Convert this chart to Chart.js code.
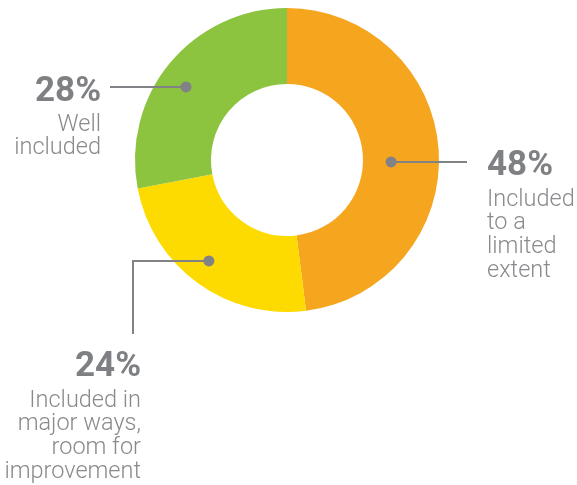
<!DOCTYPE html>
<html lang="en">
<head>
  <meta charset="UTF-8" />
  <title>Inclusion share</title>
  <script src="https://cdn.jsdelivr.net/npm/chart.js"></script>
  <style>
    html, body { margin: 0; padding: 0; background: #fff; }
    #wrap { position: relative; width: 577px; height: 485px; }
  </style>
</head>
<body>
  <div id="wrap">
    <canvas id="donut" width="577" height="485"></canvas>
  </div>

  <script>
    // segments, clockwise from 12 o'clock
    const categories = [
      'Included to a limited extent',
      'Included in major ways, room for improvement',
      'Well included'
    ];
    const shares = [48, 24, 28];
    const labelLines = [
      ['Included', 'to a', 'limited', 'extent'],
      ['Included in', 'major ways,', 'room for', 'improvement'],
      ['Well', 'included']
    ];
    const colors = ['#F6A51F', '#FDDA00', '#8CC43F'];

    const grey = '#818286';

    // where each callout sits: dot along the arc (t = fraction of sweep, r = fraction of ring),
    // leader path, and text block anchor
    const callouts = [
      { t: 0.527, r: 0.37, path: [[467, null]], x: 487, align: 'left', pctY: 175, lineYs: [206, 229, 253, 277] },
      { t: 0.52, r: 0.68, path: [[133, null], [133, 334]], x: 141, align: 'right', pctY: 376, lineYs: [407, 430, 454, 478] },
      { t: 0.463, r: 0.64, path: [[110, null]], x: 101, align: 'right', pctY: 101, lineYs: [131, 154] }
    ];

    const calloutPlugin = {
      id: 'callouts',
      afterDatasetsDraw(chart) {
        const ctx = chart.ctx;
        const arcs = chart.getDatasetMeta(0).data;
        ctx.save();
        arcs.forEach((arc, i) => {
          const c = callouts[i];
          const p = arc.getProps(['x', 'y', 'startAngle', 'endAngle', 'innerRadius', 'outerRadius'], true);
          const a = p.startAngle + (p.endAngle - p.startAngle) * c.t;
          const r = p.innerRadius + (p.outerRadius - p.innerRadius) * c.r;
          const dx = p.x + Math.cos(a) * r;
          const dy = p.y + Math.sin(a) * r;

          // leader line
          ctx.strokeStyle = grey;
          ctx.lineWidth = 2;
          ctx.beginPath();
          ctx.moveTo(dx, dy);
          c.path.forEach(([px, py]) => ctx.lineTo(px, py === null ? dy : py));
          ctx.stroke();

          // dot
          ctx.fillStyle = grey;
          ctx.beginPath();
          ctx.arc(dx, dy, 5.5, 0, Math.PI * 2);
          ctx.fill();

          // text
          ctx.textAlign = c.align;
          ctx.textBaseline = 'alphabetic';
          ctx.fillStyle = '#7f8084';
          ctx.font = 'bold 35px Roboto, "Liberation Sans", sans-serif';
          ctx.fillText(shares[i] + '%', c.x, c.pctY);
          ctx.fillStyle = '#898a8d';
          ctx.font = '300 23.5px Roboto, "Liberation Sans", sans-serif';
          labelLines[i].forEach((line, k) => ctx.fillText(line, c.x, c.lineYs[k]));
        });
        ctx.restore();
      }
    };

    new Chart(document.getElementById('donut'), {
      type: 'doughnut',
      data: {
        labels: categories,
        datasets: [{
          data: shares,
          backgroundColor: colors,
          borderWidth: 0
        }]
      },
      options: {
        responsive: false,
        animation: false,
        cutout: '50%',
        layout: { padding: { top: 8, bottom: 173, left: 135, right: 138 } },
        plugins: {
          legend: { display: false },
          tooltip: { enabled: false }
        }
      },
      plugins: [calloutPlugin]
    });
  </script>
</body>
</html>
